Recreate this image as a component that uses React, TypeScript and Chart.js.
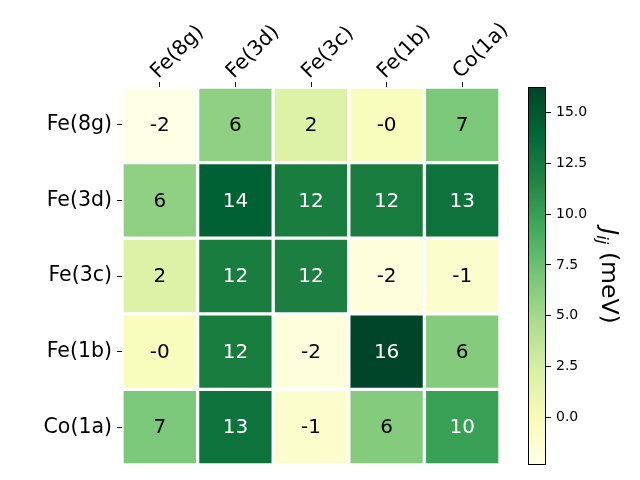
import React, { useEffect, useRef } from "react";
import { Chart, registerables } from "chart.js";

Chart.register(...registerables);

const colLabels = ["Fe(8g)", "Fe(3d)", "Fe(3c)", "Fe(1b)", "Co(1a)"];
const rowLabels = ["Fe(8g)", "Fe(3d)", "Fe(3c)", "Fe(1b)", "Co(1a)"];

const rowFe8g = [-2.36, 5.9, 1.9, -0.2, 6.8];
const rowFe3d = [5.9, 14.4, 12.2, 12.3, 13.1];
const rowFe3c = [1.9, 12.2, 12.1, -1.9, -1.1];
const rowFe1b = [-0.2, 12.3, -1.9, 16.27, 6.4];
const rowCo1a = [6.8, 13.1, -1.1, 6.4, 9.9];

const matrix = [rowFe8g, rowFe3d, rowFe3c, rowFe1b, rowCo1a];

const cbarTicks = [0, 2.5, 5, 7.5, 10, 12.5, 15];

const YLGN = [
  [255, 255, 229],
  [247, 252, 185],
  [217, 240, 163],
  [173, 221, 142],
  [120, 198, 121],
  [65, 171, 93],
  [35, 132, 67],
  [0, 104, 55],
  [0, 69, 41],
];

const allVals = matrix.flat();
const vmin = Math.min(...allVals);
const vmax = Math.max(...allVals);

function rgbOf(v: number): number[] {
  let t = (v - vmin) / (vmax - vmin);
  t = Math.max(0, Math.min(1, t));
  const s = t * 8;
  const i = Math.min(7, Math.floor(s));
  const f = s - i;
  const a = YLGN[i];
  const b = YLGN[i + 1];
  return [0, 1, 2].map((k) => Math.round(a[k] + (b[k] - a[k]) * f));
}
function colorFor(v: number): string {
  const c = rgbOf(v);
  return `rgb(${c[0]},${c[1]},${c[2]})`;
}
function textColorFor(v: number): string {
  const c = rgbOf(v).map((x) => {
    const s = x / 255;
    return s <= 0.03928 ? s / 12.92 : Math.pow((s + 0.055) / 1.055, 2.4);
  });
  const lum = 0.2126 * c[0] + 0.7152 * c[1] + 0.0722 * c[2];
  return lum > 0.408 ? "#000000" : "#ffffff";
}

const FONT = "'DejaVu Sans', sans-serif";

const annotPlugin = {
  id: "annot",
  afterDatasetsDraw(chart: any) {
    const { ctx } = chart;
    const xs = chart.scales.x;
    const ys = chart.scales.y;
    ctx.save();
    ctx.font = `20px ${FONT}`;
    ctx.textAlign = "center";
    ctx.textBaseline = "middle";
    matrix.forEach((row, r) =>
      row.forEach((v, c) => {
        ctx.fillStyle = textColorFor(v);
        ctx.fillText(v.toFixed(0), xs.getPixelForValue(c), ys.getPixelForValue(r) + 1);
      })
    );
    ctx.restore();
  },
};

const cbarDecor = {
  id: "cbarDecor",
  afterDatasetsDraw(chart: any) {
    const { ctx, chartArea } = chart;
    ctx.save();
    ctx.strokeStyle = "#000";
    ctx.lineWidth = 1;
    ctx.strokeRect(
      Math.round(chartArea.left) + 0.5,
      Math.round(chartArea.top) + 0.5,
      Math.round(chartArea.right - chartArea.left) - 1,
      Math.round(chartArea.bottom - chartArea.top) - 1
    );
    ctx.restore();
  },
  afterDraw(chart: any) {
    const { ctx } = chart;
    const big = 23.5;
    const small = 16.5;
    ctx.save();
    ctx.translate(90, 276);
    ctx.rotate(Math.PI / 2);
    ctx.fillStyle = "#000";
    ctx.textBaseline = "alphabetic";
    ctx.textAlign = "left";
    const fJ = `italic ${big}px ${FONT}`;
    const fS = `italic ${small}px ${FONT}`;
    const fR = `${big}px ${FONT}`;
    ctx.font = fJ;
    const wJ = ctx.measureText("J").width;
    ctx.font = fS;
    const wS = ctx.measureText("ij").width;
    ctx.font = fR;
    const wR = ctx.measureText(" (meV)").width;
    const total = wJ + wS + wR;
    let x = -total / 2;
    const baseY = big * 0.36;
    ctx.font = fJ;
    ctx.fillText("J", x, baseY);
    x += wJ;
    ctx.font = fS;
    ctx.fillText("ij", x, baseY + big * 0.2);
    x += wS;
    ctx.font = fR;
    ctx.fillText(" (meV)", x, baseY);
    ctx.restore();
  },
};

export default function App() {
  const mainRef = useRef<HTMLCanvasElement | null>(null);
  const cbarRef = useRef<HTMLCanvasElement | null>(null);

  useEffect(() => {
    const datasets = matrix.map((row, r) => ({
      label: rowLabels[r],
      data: row.map(() => [r - 0.5, r + 0.5]),
      backgroundColor: row.map(colorFor),
      borderColor: "#ffffff",
      borderWidth: 2,
      borderSkipped: false,
      grouped: false,
      barPercentage: 1,
      categoryPercentage: 1,
    }));

    const main = new Chart(mainRef.current as HTMLCanvasElement, {
      type: "bar",
      data: { labels: colLabels, datasets: datasets as any },
      options: {
        animation: false,
        responsive: false,
        maintainAspectRatio: false,
        layout: { padding: { left: 0, right: 140, top: 0, bottom: 15 } },
        plugins: { legend: { display: false }, tooltip: { enabled: false } },
        scales: {
          x: {
            type: "category",
            position: "top",
            offset: true,
            grid: {
              display: true,
              drawOnChartArea: false,
              drawTicks: true,
              tickLength: 5,
              color: "#000",
              offset: false,
            },
            border: { display: false },
            ticks: {
              autoSkip: false,
              minRotation: 45,
              maxRotation: 45,
              padding: -2,
              labelOffset: 12,
              color: "#000",
              font: { family: FONT, size: 20.5 },
            },
            afterFit: (s: any) => {
              s.height = 87;
              s.paddingLeft = 0;
              s.paddingRight = 0;
            },
          },
          y: {
            type: "linear",
            min: -0.5,
            max: 4.5,
            reverse: true,
            afterBuildTicks: (s: any) => {
              s.ticks = [0, 1, 2, 3, 4].map((v) => ({ value: v }));
            },
            grid: {
              display: true,
              drawOnChartArea: false,
              drawTicks: true,
              tickLength: 5,
              color: "#000",
            },
            border: { display: false },
            ticks: {
              padding: 5,
              color: "#000",
              font: { family: FONT, size: 20.5 },
              callback: (v: any) => rowLabels[Math.round(Number(v))],
            },
            afterFit: (s: any) => {
              s.width = 122;
              s.paddingTop = 0;
              s.paddingBottom = 0;
            },
          },
        },
      },
      plugins: [annotPlugin],
    });

    const cbar = new Chart(cbarRef.current as HTMLCanvasElement, {
      type: "bar",
      data: {
        labels: [""],
        datasets: [
          {
            data: [[vmin, vmax]] as any,
            backgroundColor: (c: any) => {
              const ch = c.chart;
              const ys = ch.scales && ch.scales.y;
              if (!ys || !ch.chartArea) return "#ffffff";
              const y0 = ys.getPixelForValue(vmin);
              const y1 = ys.getPixelForValue(vmax);
              const g = ch.ctx.createLinearGradient(0, y0, 0, y1);
              YLGN.forEach((col, i) => g.addColorStop(i / 8, `rgb(${col[0]},${col[1]},${col[2]})`));
              return g;
            },
            borderWidth: 0,
            barPercentage: 1,
            categoryPercentage: 1,
          },
        ],
      },
      options: {
        animation: false,
        responsive: false,
        maintainAspectRatio: false,
        layout: { padding: { left: 8, right: 0, top: 87, bottom: 15 } },
        plugins: { legend: { display: false }, tooltip: { enabled: false } },
        scales: {
          x: { display: false },
          y: {
            position: "right",
            min: vmin,
            max: vmax,
            afterBuildTicks: (s: any) => {
              s.ticks = cbarTicks.map((v) => ({ value: v }));
            },
            grid: {
              display: true,
              drawOnChartArea: false,
              drawTicks: true,
              tickLength: 5,
              color: "#000",
            },
            border: { display: false },
            ticks: {
              padding: 5,
              color: "#000",
              font: { family: FONT, size: 14 },
              callback: (v: any) => Number(v).toFixed(1),
            },
            afterFit: (s: any) => {
              s.width = 94;
            },
          },
        },
      },
      plugins: [cbarDecor],
    });

    return () => {
      main.destroy();
      cbar.destroy();
    };
  }, []);

  return (
    <div
      style={{
        position: "fixed",
        left: 0,
        top: 0,
        width: 640,
        height: 480,
        background: "#ffffff",
      }}
    >
      <canvas
        ref={mainRef}
        width={640}
        height={480}
        style={{ position: "absolute", left: 0, top: 0, width: 640, height: 480 }}
      />
      <canvas
        ref={cbarRef}
        width={120}
        height={480}
        style={{ position: "absolute", left: 520, top: 0, width: 120, height: 480 }}
      />
    </div>
  );
}
